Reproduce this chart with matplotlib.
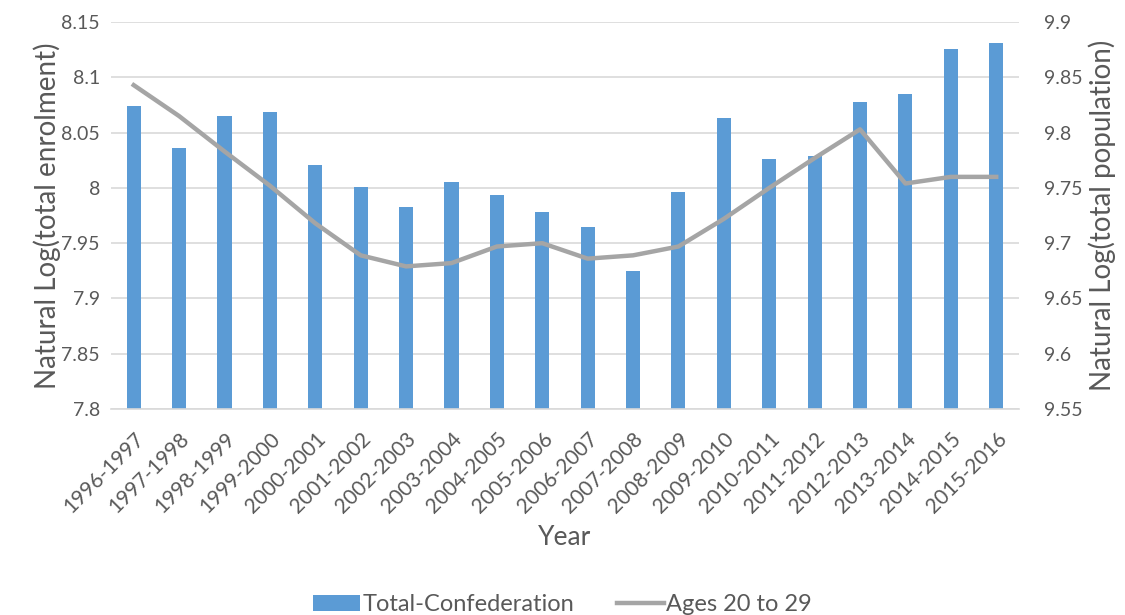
import matplotlib.pyplot as plt
import numpy as np

years = ['1996-1997', '1997-1998', '1998-1999', '1999-2000', '2000-2001',
         '2001-2002', '2002-2003', '2003-2004', '2004-2005', '2005-2006',
         '2006-2007', '2007-2008', '2008-2009', '2009-2010', '2010-2011',
         '2011-2012', '2012-2013', '2013-2014', '2014-2015', '2015-2016']
total_confederation = [8.074, 8.036, 8.065, 8.069, 8.021, 8.001, 7.983, 8.005, 7.994, 7.978,
                       7.965, 7.925, 7.996, 8.063, 8.026, 8.029, 8.078, 8.085, 8.126, 8.131]
ages_20_29 = [9.843, 9.815, 9.783, 9.752, 9.718, 9.689, 9.679, 9.682, 9.697, 9.700,
              9.686, 9.689, 9.697, 9.722, 9.750, 9.777, 9.803, 9.754, 9.760, 9.760]

left_ticks = [7.8, 7.85, 7.9, 7.95, 8, 8.05, 8.1, 8.15]
left_labels = ['7.8', '7.85', '7.9', '7.95', '8', '8.05', '8.1', '8.15']
right_ticks = [9.55, 9.6, 9.65, 9.7, 9.75, 9.8, 9.85, 9.9]
right_labels = ['9.55', '9.6', '9.65', '9.7', '9.75', '9.8', '9.85', '9.9']

plt.rcParams['font.family'] = ['Lato', 'DejaVu Sans']
txt = '#595959'
bar_c = '#5B9BD5'
line_c = '#A5A5A5'

fig = plt.figure(figsize=(11.25, 6.15), dpi=100)
ax = fig.add_axes([0.0987, 0.335, 0.807, 0.629])
ax2 = ax.twinx()

x = np.arange(len(years))
b = ax.bar(x, total_confederation, width=0.31, color=bar_c, zorder=2,
           label='Total-Confederation')
ax.set_ylim(7.8, 8.15)
ax.set_xlim(-0.5, len(years) - 0.5)
ax.set_yticks(left_ticks)
ax.set_yticklabels(left_labels)
ax.yaxis.grid(True, color='#D9D9D9', linewidth=1.2, zorder=0)
ax.set_axisbelow(True)
ax.set_xticks(x)
ax.set_xticklabels(years, rotation=45, ha='right', rotation_mode='anchor')
ax.tick_params(axis='y', length=0, labelsize=14, colors=txt, pad=8)
ax.tick_params(axis='x', length=0, labelsize=15, colors=txt, pad=14)
ax.set_ylabel('Natural Log(total enrolment)', fontsize=20, color=txt, labelpad=0)
ax.set_xlabel('Year', fontsize=19, color=txt, labelpad=6)

l, = ax2.plot(x, ages_20_29, color=line_c, linewidth=3.2, zorder=3,
              label='Ages 20 to 29')
ax2.set_ylim(9.55, 9.9)
ax2.set_yticks(right_ticks)
ax2.set_yticklabels(right_labels)
ax2.tick_params(axis='y', length=0, labelsize=14, colors=txt, pad=18)
ax2.set_ylabel('Natural Log(total population)', fontsize=20, color=txt, labelpad=4)

for a in (ax, ax2):
    for s in a.spines.values():
        s.set_visible(False)
ax.spines['bottom'].set_visible(True)
ax.spines['bottom'].set_color('#D9D9D9')
ax.spines['bottom'].set_linewidth(1.2)

fig.legend([b, l], ['Total-Confederation', 'Ages 20 to 29'], loc='lower center',
           bbox_to_anchor=(0.5, -0.035), ncol=2, frameon=False, fontsize=17,
           labelcolor=txt, handlelength=2.0, handletextpad=0.1, columnspacing=1.8)

fig.savefig('out.png', dpi=100)
